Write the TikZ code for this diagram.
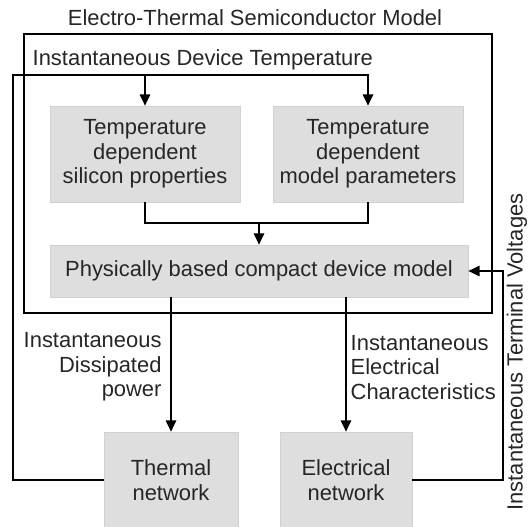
\documentclass[tikz,border=0pt]{standalone}
\usepackage{fontspec}
\setmainfont{Liberation Sans}
\usetikzlibrary{arrows.meta}

\begin{document}
\begin{tikzpicture}[
    font=\fontsize{15.6}{17.4}\selectfont,
    line width=1pt,
    gbox/.style={draw=black!18, fill=black!13, text=black!85, align=center,
                 minimum width=4.75cm, minimum height=2.4cm, line width=0.5pt},
    lbl/.style={text=black!85, inner sep=0pt},
    arrow/.style={-{Triangle[length=0.28cm, width=0.26cm]}, line width=1pt}
]
\useasboundingbox (0,0) rectangle (13.2,-13.175);

%--------
% MODEL BLOCK
%--------
\node[lbl] (title) at (6.375,-0.45) {Electro-Thermal Semiconductor Model};
\draw (0.6,-0.85) rectangle (12.3,-7.825);
\node[lbl, anchor=west] (tlabel) at (0.8,-1.5) {Instantaneous Device Temperature};

\node[gbox] (sil) at (3.625,-3.85) {Temperature\\dependent\\silicon properties};
\node[gbox] (par) at (9.2,-3.85) {Temperature\\dependent\\model parameters};
\node[gbox, minimum width=10.45cm, minimum height=1.3cm] (pbm) at (6.475,-6.775)
    {Physically based compact device model};

%--------
% NETWORKS
%--------
\node[gbox, minimum width=3.35cm, minimum height=2.4cm] (therm) at (4.275,-12.0) {Thermal\\network};
\node[gbox, minimum width=3.3cm, minimum height=2.4cm] (elec) at (8.65,-12.0) {Electrical\\network};

% corner points of the loops
\coordinate (tl) at (0.325,-1.875);
\coordinate (mg) at (6.45,-5.575);
\coordinate (vr) at (12.575,-6.775);

% temperature feedback
\draw[arrow] (therm.west) -| (tl) -| (par.north);
\draw[arrow] (sil.north |- tl) -- (sil.north);

% merge into device model
\draw (sil.south) |- (mg) -| (par.south);
\draw[arrow] (mg) -- (pbm.north |- mg) -- (pbm.north);

% device model to networks
\draw[arrow] (pbm.south -| therm.north) -- (therm.north)
    node[pos=0.52, left=0.22cm, lbl, align=right] {Instantaneous\\Dissipated\\power};
\draw[arrow] (pbm.south -| elec.north) -- (elec.north)
    node[pos=0.52, right=0.1cm, lbl, align=left] {Instantaneous\\Electrical\\Characteristics};

% terminal voltages back to the model
\draw[arrow] (elec.east) -| (vr) -- (pbm.east);
\node[lbl, rotate=90] (vlabel) at (12.925,-8.8) {Instantaneous Terminal Voltages};

\end{tikzpicture}
\end{document}
